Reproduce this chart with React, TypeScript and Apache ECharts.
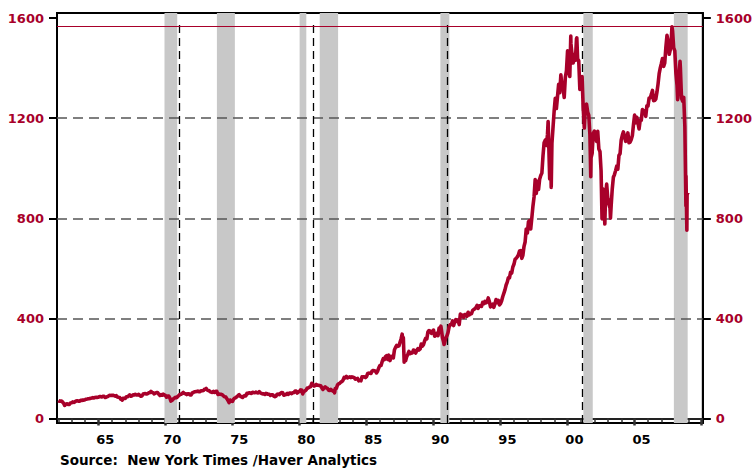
import React, { useEffect, useRef } from "react";
import * as echarts from "echarts";

// S&P 500 monthly closes (read from chart / approximate)
const closes1962to1969 = [
  68.8, 69.96, 69.55, 65.24, 59.63, 54.75, 58.23, 59.12, 56.27, 56.52, 62.26, 63.1,
  66.2, 64.29, 66.57, 69.8, 70.8, 69.37, 69.13, 72.5, 71.7, 74.01, 73.23, 75.02,
  77.04, 77.8, 78.98, 79.46, 80.37, 81.69, 83.18, 81.83, 84.18, 84.86, 84.42, 84.75,
  87.56, 87.43, 86.16, 89.11, 88.42, 84.12, 85.25, 87.17, 89.96, 92.42, 91.61, 92.43,
  92.88, 91.22, 89.23, 91.06, 86.13, 84.74, 83.6, 77.1, 76.56, 80.2, 80.45, 80.33,
  86.61, 86.78, 90.2, 94.01, 89.08, 90.64, 94.75, 93.64, 96.71, 93.9, 94.0, 96.47,
  92.24, 89.36, 90.2, 97.59, 98.68, 99.58, 97.74, 98.86, 102.67, 103.41, 108.37, 103.86,
  103.01, 98.13, 101.51, 103.69, 103.46, 97.71, 91.83, 95.51, 93.12, 97.24, 93.81, 92.06,
];
const closes1970s = [
  85.02, 89.5, 89.63, 81.52, 76.55, 72.72, 78.05, 81.52, 84.21, 83.25, 87.2, 92.15,
  95.88, 96.75, 100.31, 103.95, 99.63, 98.7, 95.58, 99.03, 98.34, 94.23, 93.99, 102.09,
  103.94, 106.57, 107.2, 107.67, 109.53, 107.14, 107.39, 111.09, 110.55, 111.58, 116.67, 118.05,
  116.03, 111.68, 111.52, 106.97, 104.95, 104.26, 108.22, 104.25, 108.43, 108.29, 95.96, 97.55,
  96.57, 96.22, 93.98, 90.31, 87.28, 86.0, 79.31, 72.15, 63.54, 73.9, 69.97, 68.56,
  76.98, 81.59, 83.36, 87.3, 91.15, 95.19, 88.75, 86.88, 83.87, 89.04, 91.24, 90.19,
  100.86, 99.71, 102.77, 101.64, 100.18, 104.28, 103.44, 102.91, 105.24, 102.9, 102.1, 107.46,
  102.03, 99.82, 98.42, 98.44, 96.12, 100.48, 98.85, 96.77, 96.53, 92.34, 94.83, 95.1,
  89.25, 87.04, 89.21, 96.83, 97.24, 95.53, 100.68, 103.29, 102.54, 93.15, 94.7, 96.11,
  99.93, 96.28, 101.59, 101.76, 99.08, 102.91, 103.81, 109.32, 109.32, 101.82, 106.16, 107.94,
];
const closes1980s = [
  114.16, 113.66, 102.09, 106.29, 111.24, 114.24, 121.67, 122.38, 125.46, 127.47, 140.52, 135.76,
  129.55, 131.27, 136.0, 132.81, 132.59, 131.21, 130.92, 122.79, 116.18, 121.89, 126.35, 122.55,
  120.4, 113.11, 111.96, 116.44, 111.88, 109.61, 107.09, 119.51, 120.42, 133.71, 138.54, 140.64,
  145.3, 148.06, 152.96, 164.42, 162.39, 168.11, 162.56, 164.4, 166.07, 163.55, 166.4, 164.93,
  163.41, 157.06, 159.18, 160.05, 150.55, 153.18, 150.66, 166.68, 166.1, 166.09, 163.58, 167.24,
  179.63, 181.18, 180.66, 179.83, 189.55, 191.85, 190.92, 188.63, 182.08, 189.82, 202.17, 211.28,
  211.78, 226.92, 238.9, 235.52, 247.35, 250.84, 236.12, 252.93, 231.32, 243.98, 249.22, 242.17,
  274.08, 284.2, 291.7, 288.36, 290.1, 304.0, 318.66, 329.8, 321.83, 251.79, 230.3, 247.08,
  257.07, 267.82, 258.89, 261.33, 262.16, 273.5, 272.02, 261.52, 271.91, 278.97, 273.7, 277.72,
  297.47, 288.86, 294.87, 309.64, 320.52, 317.98, 346.08, 351.45, 349.15, 340.36, 345.99, 353.4,
];
const closes1990s = [
  329.08, 331.89, 339.94, 330.8, 361.23, 358.02, 356.15, 322.56, 306.05, 304.0, 322.22, 330.22,
  343.93, 367.07, 375.22, 375.35, 389.83, 371.16, 387.81, 395.43, 387.86, 392.46, 375.22, 417.09,
  408.79, 412.7, 403.69, 414.95, 415.35, 408.14, 424.21, 414.03, 417.8, 418.68, 431.35, 435.71,
  438.78, 443.38, 451.67, 440.19, 450.19, 450.53, 448.13, 463.56, 458.93, 467.83, 461.79, 466.45,
  481.61, 467.14, 445.77, 450.91, 456.5, 444.27, 458.26, 475.49, 462.69, 472.35, 453.69, 459.27,
  470.42, 487.39, 500.71, 514.71, 533.4, 544.75, 562.06, 561.88, 584.41, 581.5, 605.37, 615.93,
  636.02, 640.43, 645.5, 654.17, 669.12, 670.63, 639.95, 651.99, 687.31, 705.27, 757.02, 740.74,
  786.16, 790.82, 757.12, 801.34, 848.28, 885.14, 954.31, 899.47, 947.28, 914.62, 955.4, 970.43,
  980.28, 1049.34, 1101.75, 1111.75, 1090.82, 1133.84, 1120.67, 957.28, 1017.01, 1098.67, 1163.63, 1229.23,
  1279.64, 1238.33, 1286.37, 1335.18, 1301.84, 1372.71, 1328.72, 1320.41, 1282.71, 1362.93, 1388.91, 1469.25,
];
const closes2000s = [
  1394.46, 1366.42, 1498.58, 1452.43, 1420.6, 1454.6, 1430.83, 1517.68, 1436.51, 1429.4, 1314.95, 1320.28,
  1366.01, 1239.94, 1160.33, 1249.46, 1255.82, 1224.42, 1211.23, 1133.58, 1040.94, 1059.78, 1139.45, 1148.08,
  1130.2, 1106.73, 1147.39, 1076.92, 1067.14, 989.82, 911.62, 916.07, 815.28, 885.76, 936.31, 879.82,
  855.7, 841.15, 848.18, 916.92, 963.59, 974.5, 990.31, 1008.01, 995.97, 1050.71, 1058.2, 1111.92,
  1131.13, 1144.94, 1126.21, 1107.3, 1120.68, 1140.84, 1101.72, 1104.24, 1114.58, 1130.2, 1173.82, 1211.92,
  1181.27, 1203.6, 1180.59, 1156.85, 1191.5, 1191.33, 1234.18, 1220.33, 1228.81, 1207.01, 1249.48, 1248.29,
  1280.08, 1280.66, 1294.83, 1310.61, 1270.09, 1270.2, 1276.66, 1303.82, 1335.85, 1377.94, 1400.63, 1418.3,
  1438.24, 1406.82, 1420.86, 1482.37, 1530.62, 1503.35, 1455.27, 1473.99, 1526.75, 1549.38, 1481.14, 1468.36,
  1378.55, 1330.63, 1322.7, 1385.59, 1400.38, 1280.0, 1267.38, 1282.83, 1166.36, 968.75, 896.24, 903.25,
];
// intra-month extremes visible in the daily line [decimal year, value]
const intraMonthPoints = [
  [1962.0, 71.6], [1962.47, 52.3], [1966.77, 73.2], [1970.4, 69.3], [1973.03, 120.2],
  [1974.76, 62.3], [1980.23, 98.2], [1980.91, 140.5], [1982.61, 102.4],
  [1987.65, 336.8], [1987.8, 224.8], [1990.54, 368.9], [1990.78, 295.5],
  [1998.54, 1186.8], [1998.77, 923.3], [2000.23, 1527.5], [2000.68, 1520.8],
  [2001.72, 965.8], [2002.56, 797.7], [2002.77, 776.8], [2003.19, 800.7],
  [2007.78, 1565.2], [2008.2, 1273.4], [2008.38, 1426.6], [2008.82, 848.9], [2008.89, 752.4],
];

const recessions = [
  [1969.92, 1970.87], [1973.83, 1975.17], [1980.0, 1980.5], [1981.5, 1982.87],
  [1990.5, 1991.17], [2001.17, 2001.87], [2007.92, 2008.95],
];
const cycleMarks = [1971.05, 1981.05, 1991.05, 2001.07];
const gridLevels = [400, 800, 1200];
const priorPeak = 1569;
const yTicks = [0, 400, 800, 1200, 1600];
const labelYears = [1965, 1970, 1975, 1980, 1985, 1990, 1995, 2000, 2005];
const majorTickYears = [1965, 1970, 1975, 1980, 1985, 1990, 1995, 2000, 2005, 2010];
const minorTickYears = [
  1962, 1963, 1964, 1966, 1967, 1968, 1969, 1971, 1972, 1973, 1974, 1976, 1977, 1978, 1979,
  1981, 1982, 1983, 1984, 1986, 1987, 1988, 1989, 1991, 1992, 1993, 1994, 1996, 1997, 1998, 1999,
  2001, 2002, 2003, 2004, 2006, 2007, 2008, 2009,
];
const sourceText = "Source:  New York Times /Haver Analytics";

const RED = "#a8002a";
const X_MIN = 1961.9;
const X_MAX = 2010.08;
const Y_MIN = -18;
const Y_MAX = 1620;
const FONT_FAMILY = "'DejaVu Sans', Verdana, sans-serif";

function buildSeries(): number[][] {
  const pts: number[][] = [];
  const add = (startYear: number, arr: number[]) => {
    arr.forEach((v, i) => {
      const yr = startYear + Math.floor(i / 12);
      const m = i % 12;
      pts.push([yr + (m + 1) / 12 - 0.01, v]);
    });
  };
  add(1962, closes1962to1969);
  add(1970, closes1970s);
  add(1980, closes1980s);
  add(1990, closes1990s);
  add(2000, closes2000s);
  intraMonthPoints.forEach((p) => pts.push([p[0], p[1]]));
  pts.sort((a, b) => a[0] - b[0]);
  return pts;
}

export default function App() {
  const ref = useRef<HTMLDivElement>(null);
  useEffect(() => {
    if (!ref.current) return;
    const chart = echarts.init(ref.current, undefined, { renderer: "svg" });
    const labelFont = {
      fontFamily: FONT_FAMILY,
      fontWeight: "bold" as const,
      fontSize: 13,
    };
    const yAxisBase = (pos: "left" | "right") => ({
      type: "value" as const,
      position: pos,
      min: Y_MIN,
      max: Y_MAX,
      axisLine: { show: true, lineStyle: { color: "#000", width: 2 } },
      axisTick: {
        show: true,
        customValues: yTicks,
        length: 8,
        lineStyle: { color: "#000", width: 2 },
      },
      axisLabel: {
        customValues: yTicks,
        formatter: (v: number) => String(Math.round(v)),
        margin: 13,
        color: RED,
        ...labelFont,
      },
      splitLine: { show: false },
    });
    const xBase = {
      type: "value" as const,
      position: "bottom" as const,
      min: X_MIN,
      max: X_MAX,
      splitLine: { show: false },
    };
    chart.setOption({
      animation: false,
      grid: {
        left: 57,
        right: 52,
        top: 13,
        bottom: 45,
        show: true,
        borderColor: "#000",
        borderWidth: 2,
      },
      xAxis: [
        {
          ...xBase,
          axisLine: { show: true, lineStyle: { color: "#222", width: 2 } },
          axisTick: {
            show: true,
            customValues: minorTickYears,
            length: 4,
            lineStyle: { color: "#333", width: 1.5 },
          },
          axisLabel: {
            customValues: labelYears.map((y) => y + 0.5),
            formatter: (v: number) => String(Math.floor(v) % 100).padStart(2, "0"),
            margin: 10,
            color: "#000",
            ...labelFont,
          },
        },
        {
          ...xBase,
          axisLine: { show: false },
          axisTick: {
            show: true,
            customValues: majorTickYears,
            length: 7,
            lineStyle: { color: "#333", width: 2.5 },
          },
          axisLabel: { show: false },
        },
      ],
      yAxis: [yAxisBase("left"), yAxisBase("right")],
      series: [
        {
          type: "line",
          xAxisIndex: 0,
          yAxisIndex: 0,
          data: [],
          silent: true,
          z: 1,
          markArea: {
            silent: true,
            itemStyle: { color: "#c8c8c8" },
            data: recessions.map((r) => [{ xAxis: r[0] }, { xAxis: r[1] }]),
          },
          markLine: {
            silent: true,
            symbol: "none",
            label: { show: false },
            data: [
              ...gridLevels.map((v) => ({
                yAxis: v,
                lineStyle: { color: "#555", width: 1.5, type: [10, 6] },
              })),
              ...cycleMarks.map((x) => [
                { coord: [x, Y_MIN], lineStyle: { color: "#000", width: 1.3, type: [8, 5] } },
                { coord: [x, 1592] },
              ]),
              { yAxis: priorPeak, lineStyle: { color: RED, width: 1, type: "solid" } },
            ],
          },
        },
        {
          type: "line",
          xAxisIndex: 0,
          yAxisIndex: 0,
          data: buildSeries(),
          showSymbol: false,
          silent: true,
          z: 5,
          lineStyle: { color: RED, width: 3.6, join: "round" },
        },
      ],
      graphic: [
        {
          type: "text",
          left: 60,
          top: 453,
          silent: true,
          style: {
            text: sourceText,
            fill: "#000",
            font: "bold 13.5px 'DejaVu Sans', Verdana, sans-serif",
          },
        },
      ],
    });
    return () => chart.dispose();
  }, []);
  return (
    <div
      ref={ref}
      style={{ position: "fixed", left: 0, top: 0, width: 755, height: 468, background: "#fff" }}
    />
  );
}
